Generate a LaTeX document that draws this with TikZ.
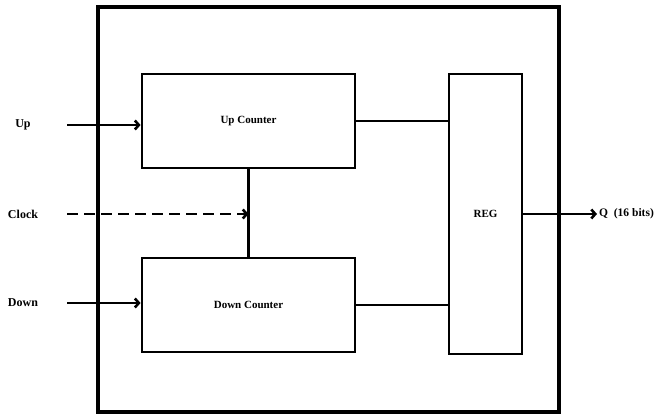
\documentclass[tikz,border=0pt]{standalone}
\usepackage{fontspec}
\setmainfont{Liberation Serif}
\usetikzlibrary{arrows.meta, positioning, calc}

\begin{document}
\begin{tikzpicture}[
        x=1pt, y=-1pt,
        block/.style={rectangle, draw=black, line width=2.8pt, fill=white, inner sep=0pt, align=center, font=\bfseries\fontsize{11}{13}\selectfont},
        sig/.style={font=\bfseries\fontsize{12}{14}\selectfont, inner sep=0pt},
        wire/.style={line width=2.6pt, black},
        arrow/.style={wire, -{Straight Barb[length=4pt, width=9pt]}}
    ]
        \useasboundingbox (0,0) rectangle (655,415);
        \draw[line width=3.4pt] (98,7) rectangle (559,412);

        \node[block, minimum width=213pt, minimum height=94pt] (upc) at (248.5,121) {Up Counter};
        \node[block, minimum width=213pt, minimum height=94pt] (downc) at (248.5,305) {Down Counter};
        \node[block, minimum width=73pt, minimum height=280pt] (reg) at (485.5,214) {REG};

        \node[sig] (up) at (23,125) {Up};
        \node[sig] (clock) at (23,214) {Clock};
        \node[sig] (down) at (23,303) {Down};
        \coordinate (upin) at (67,125);
        \coordinate (clkin) at (67,214);
        \coordinate (downin) at (67,303);
        \coordinate (qend) at (597,214);
        \node[sig, anchor=west, font=\bfseries\fontsize{11.5}{14}\selectfont] (q) at (599,214) {Q\ \ (16 bits)};

        \draw[arrow] (upin) -- (upin -| upc.west);
        \draw[arrow] (downin) -- (downin -| downc.west);
        \draw[wire] (upc.south) -- (downc.north);
        \draw[arrow, dash pattern=on 11pt off 6pt] (clkin) -- (clkin -| upc.south);
        \draw[wire] (upc.east) -- (upc.east -| reg.west);
        \draw[wire] (downc.east) -- (downc.east -| reg.west);
        \draw[arrow] (reg.east) -- (qend);
    \end{tikzpicture}
\end{document}
